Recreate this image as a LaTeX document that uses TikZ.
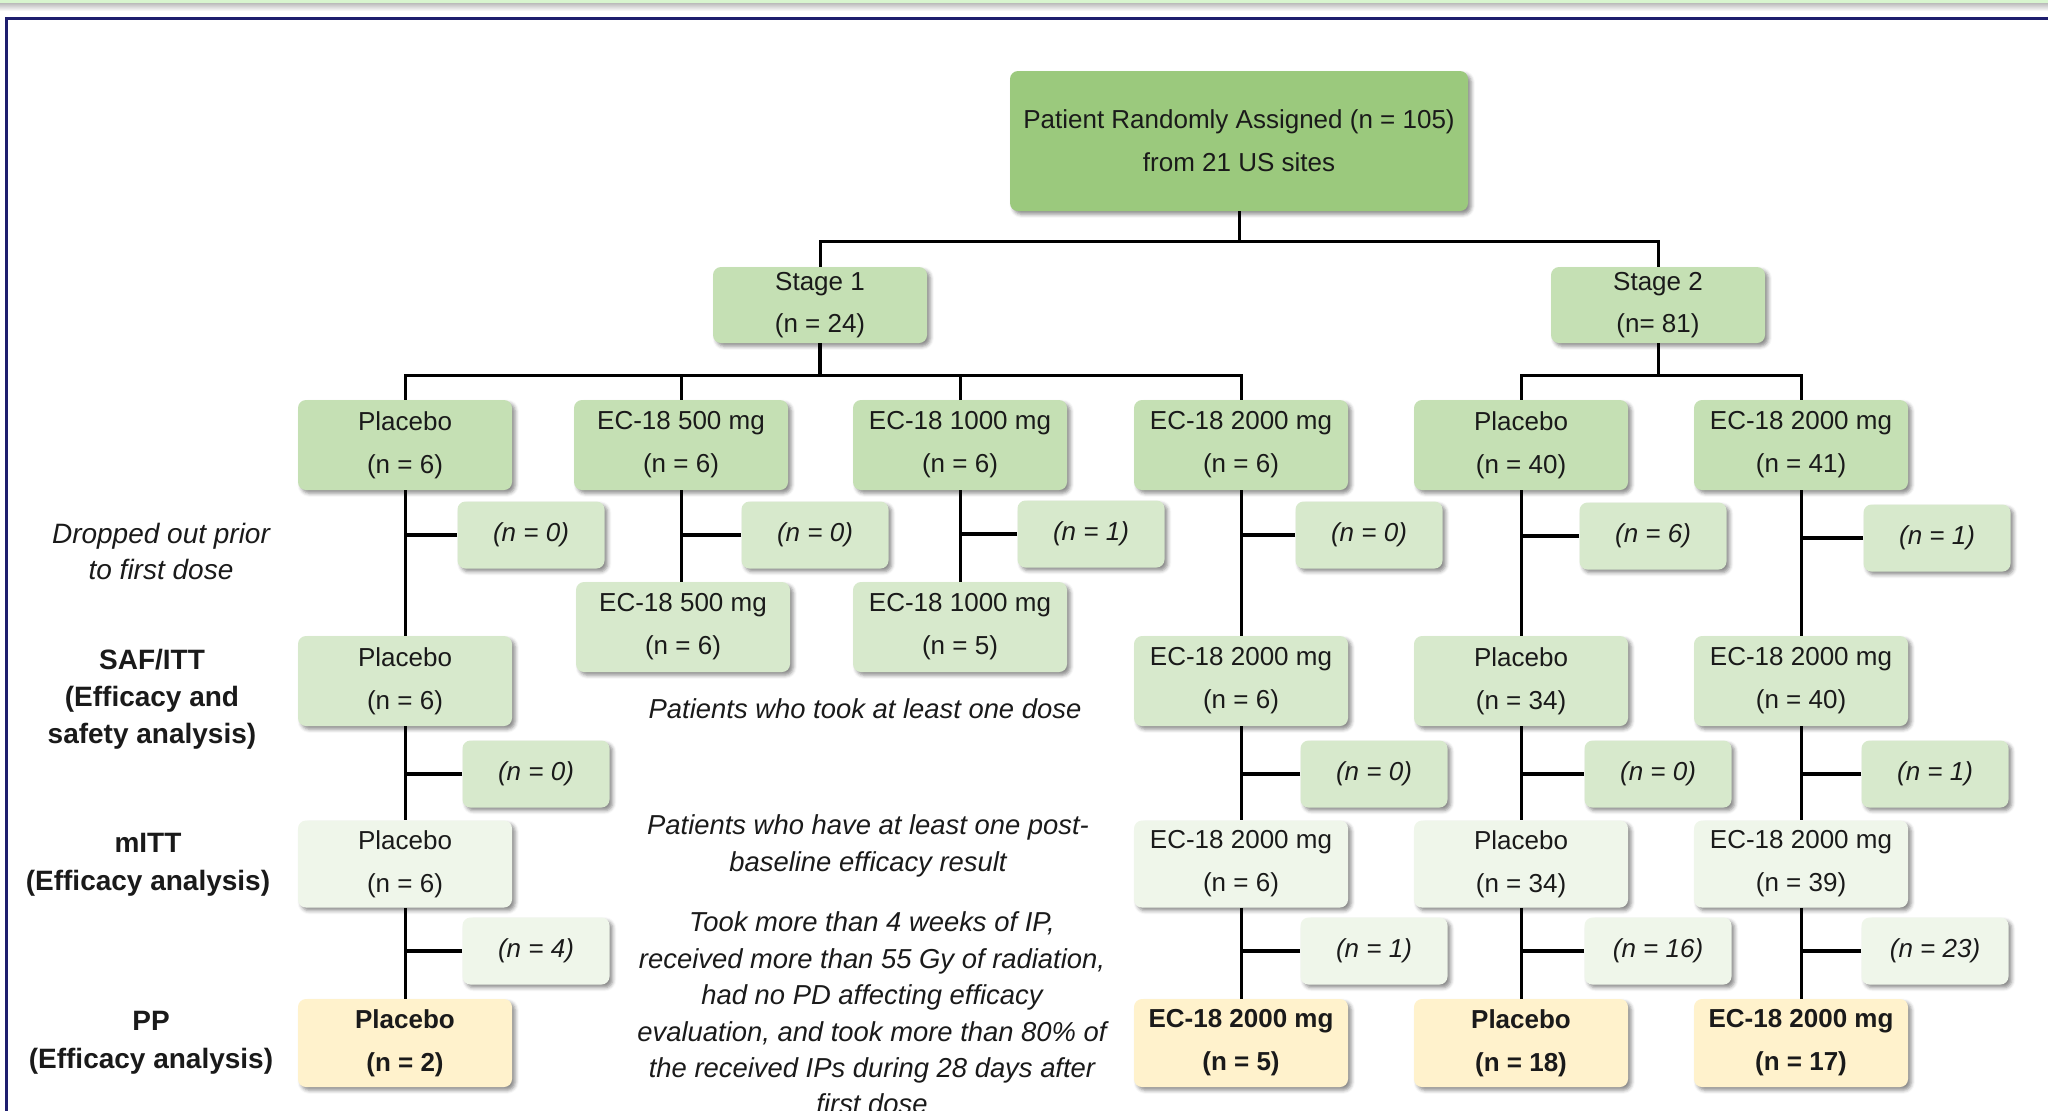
\documentclass[tikz,border=0pt]{standalone}
\usepackage{fontspec}
\setmainfont{Liberation Sans}
\usetikzlibrary{shadows.blur,calc}
\definecolor{navy}{HTML}{1E1E6E}
\definecolor{topgreen}{HTML}{D8F5CF}
\definecolor{patgreen}{HTML}{9BC97D}
\definecolor{gA}{HTML}{C5E0B4}
\definecolor{gB}{HTML}{D7E9CC}
\definecolor{gC}{HTML}{EFF6EA}
\definecolor{ppy}{HTML}{FFF2CC}
\definecolor{txt}{HTML}{1A1A1A}
\begin{document}
\begin{tikzpicture}[x=0.5pt,y=-0.5pt,
  sh/.style={blur shadow={shadow xshift=1.6pt,shadow yshift=-1.6pt,shadow blur radius=1.8pt,shadow opacity=45}},
  box/.style={sh,rounded corners=4pt,fill=#1,text=txt,align=center,inner sep=0pt,
    minimum width=107pt,minimum height=45pt,font=\fontsize{13}{21.5}\selectfont},
  dropbox/.style={sh,rounded corners=4pt,fill=#1,text=txt,align=center,inner sep=0pt,
    minimum width=73.5pt,minimum height=33.5pt,font=\fontsize{13}{16}\selectfont\itshape},
  ppbox/.style={box=ppy,font=\fontsize{13}{21.5}\selectfont\bfseries},
  ln/.style={line width=1.5pt,draw=black},
  stub/.style={line width=2pt,draw=black},
  sidelab/.style={align=center,text=txt,inner sep=0pt,font=\fontsize{14}{18.5}\selectfont\bfseries},
  midtxt/.style={align=center,text=txt,inner sep=0pt,font=\fontsize{13.7}{18.2}\selectfont\itshape}
]
\useasboundingbox (0,0) rectangle (2048,1110);
\clip (0,0) rectangle (2048,1110);
% top band and frame
\fill[topgreen] (0,0) rectangle (2048,3.5);
\shade[top color=black!25,bottom color=white] (0,3.5) rectangle (2048,11);
\draw[navy,line width=1.6pt] (6.5,1120) -- (6.5,18.5) -- (2060,18.5);

% nodes
\node[box=patgreen,minimum width=229pt,minimum height=70pt] (pat) at (1239,141) {Patient Randomly Assigned (n = 105)\\from 21 US sites};
\node[box=gA,minimum height=38pt,font=\fontsize{13}{21}\selectfont] (s1) at (820,305) {Stage 1\\(n = 24)};
\node[box=gA,minimum height=38pt,font=\fontsize{13}{21}\selectfont] (s2) at (1658,305) {Stage 2\\(n= 81)};

\node[box=gA] (a1) at (405,445) {Placebo\\(n = 6)};
\node[box=gA] (a2) at (681,445) {EC-18 500 mg\\(n = 6)};
\node[box=gA] (a3) at (960,445) {EC-18 1000 mg\\(n = 6)};
\node[box=gA] (a4) at (1241,445) {EC-18 2000 mg\\(n = 6)};
\node[box=gA] (a5) at (1521,445) {Placebo\\(n = 40)};
\node[box=gA] (a6) at (1801,445) {EC-18 2000 mg\\(n = 41)};

\node[dropbox=gB] (d1) at (531,535) {(n = 0)};
\node[dropbox=gB] (d2) at (815,535) {(n = 0)};
\node[dropbox=gB] (d3) at (1091,534) {(n = 1)};
\node[dropbox=gB] (d4) at (1369,535) {(n = 0)};
\node[dropbox=gB] (d5) at (1653,536) {(n = 6)};
\node[dropbox=gB] (d6) at (1937,538) {(n = 1)};

\node[box=gB] (b2) at (683,627) {EC-18 500 mg\\(n = 6)};
\node[box=gB] (b3) at (960,627) {EC-18 1000 mg\\(n = 5)};

\node[box=gB] (c1) at (405,681) {Placebo\\(n = 6)};
\node[box=gB] (c4) at (1241,681) {EC-18 2000 mg\\(n = 6)};
\node[box=gB] (c5) at (1521,681) {Placebo\\(n = 34)};
\node[box=gB] (c6) at (1801,681) {EC-18 2000 mg\\(n = 40)};

\node[dropbox=gB] (e1) at (536,774) {(n = 0)};
\node[dropbox=gB] (e4) at (1374,774) {(n = 0)};
\node[dropbox=gB] (e5) at (1658,774) {(n = 0)};
\node[dropbox=gB] (e6) at (1935,774) {(n = 1)};

\node[box=gC,minimum height=43.5pt] (m1) at (405,864) {Placebo\\(n = 6)};
\node[box=gC,minimum height=43.5pt] (m4) at (1241,864) {EC-18 2000 mg\\(n = 6)};
\node[box=gC,minimum height=43.5pt] (m5) at (1521,864) {Placebo\\(n = 34)};
\node[box=gC,minimum height=43.5pt] (m6) at (1801,864) {EC-18 2000 mg\\(n = 39)};

\node[dropbox=gC] (f1) at (536,951) {(n = 4)};
\node[dropbox=gC] (f4) at (1374,951) {(n = 1)};
\node[dropbox=gC] (f5) at (1658,951) {(n = 16)};
\node[dropbox=gC] (f6) at (1935,951) {(n = 23)};

\node[ppbox,minimum height=44pt] (p1) at (405,1043) {Placebo\\(n = 2)};
\node[ppbox,minimum height=44pt] (p4) at (1241,1043) {EC-18 2000 mg\\(n = 5)};
\node[ppbox,minimum height=44pt] (p5) at (1521,1043) {Placebo\\(n = 18)};
\node[ppbox,minimum height=44pt] (p6) at (1801,1043) {EC-18 2000 mg\\(n = 17)};

% side labels
\node[midtxt,font=\fontsize{14}{18}\selectfont\itshape] (l1) at (161,551) {Dropped out prior\\to first dose};
\node[sidelab] (l2) at (152,699) {SAF/ITT\\(Efficacy and\\safety analysis)};
\node[sidelab,font=\fontsize{14}{19}\selectfont\bfseries] (l3) at (148,865) {mITT\\(Efficacy analysis)};
\node[sidelab,font=\fontsize{14}{19}\selectfont\bfseries] (l4) at (151,1043) {PP\\(Efficacy analysis)};

% middle texts
\node[midtxt] (t1) at (865,709) {Patients who took at least one dose};
\node[midtxt] (t2) at (868,846) {Patients who have at least one post-\\baseline efficacy result};
\node[midtxt] (t3) at (872,1013) {Took more than 4 weeks of IP,\\received more than 55 Gy of radiation,\\had no PD affecting efficacy\\evaluation, and took more than 80\% of\\the received IPs during 28 days after\\first dose};

% connectors
\coordinate (j0) at (1239,241);
\coordinate (j1) at (820,375);
\coordinate (j2) at (1658,375);
\draw[ln] (pat.south) -- (j0);
\draw[ln] (s1.north) |- (j0) -| (s2.north);
\draw[stub] (s1.south) -- (j1);
\draw[ln] (a1.north) |- (j1) -| (a4.north);
\draw[ln] (a2.north) -- (a2.north |- j1);
\draw[ln] (a3.north) -- (a3.north |- j1);
\draw[ln] (s2.south) -- (j2);
\draw[ln] (a5.north) |- (j2) -| (a6.north);

\draw[ln] (a1.south) -- (c1.north);
\draw[ln] (a2.south) -- (a2.south |- b2.north);
\draw[ln] (a3.south) -- (b3.north);
\draw[ln] (a4.south) -- (c4.north);
\draw[ln] (a5.south) -- (c5.north);
\draw[ln] (a6.south) -- (c6.north);
\draw[ln] (c1.south) -- (m1.north);
\draw[ln] (c4.south) -- (m4.north);
\draw[ln] (c5.south) -- (m5.north);
\draw[ln] (c6.south) -- (m6.north);
\draw[ln] (m1.south) -- (p1.north);
\draw[ln] (m4.south) -- (p4.north);
\draw[ln] (m5.south) -- (p5.north);
\draw[ln] (m6.south) -- (p6.north);

\draw[stub] (d1.west) -- (d1.west -| a1.south);
\draw[stub] (d2.west) -- (d2.west -| a2.south);
\draw[stub] (d3.west) -- (d3.west -| a3.south);
\draw[stub] (d4.west) -- (d4.west -| a4.south);
\draw[stub] (d5.west) -- (d5.west -| a5.south);
\draw[stub] (d6.west) -- (d6.west -| a6.south);
\draw[stub] (e1.west) -- (e1.west -| c1.south);
\draw[stub] (e4.west) -- (e4.west -| c4.south);
\draw[stub] (e5.west) -- (e5.west -| c5.south);
\draw[stub] (e6.west) -- (e6.west -| c6.south);
\draw[stub] (f1.west) -- (f1.west -| m1.south);
\draw[stub] (f4.west) -- (f4.west -| m4.south);
\draw[stub] (f5.west) -- (f5.west -| m5.south);
\draw[stub] (f6.west) -- (f6.west -| m6.south);
\end{tikzpicture}
\end{document}
